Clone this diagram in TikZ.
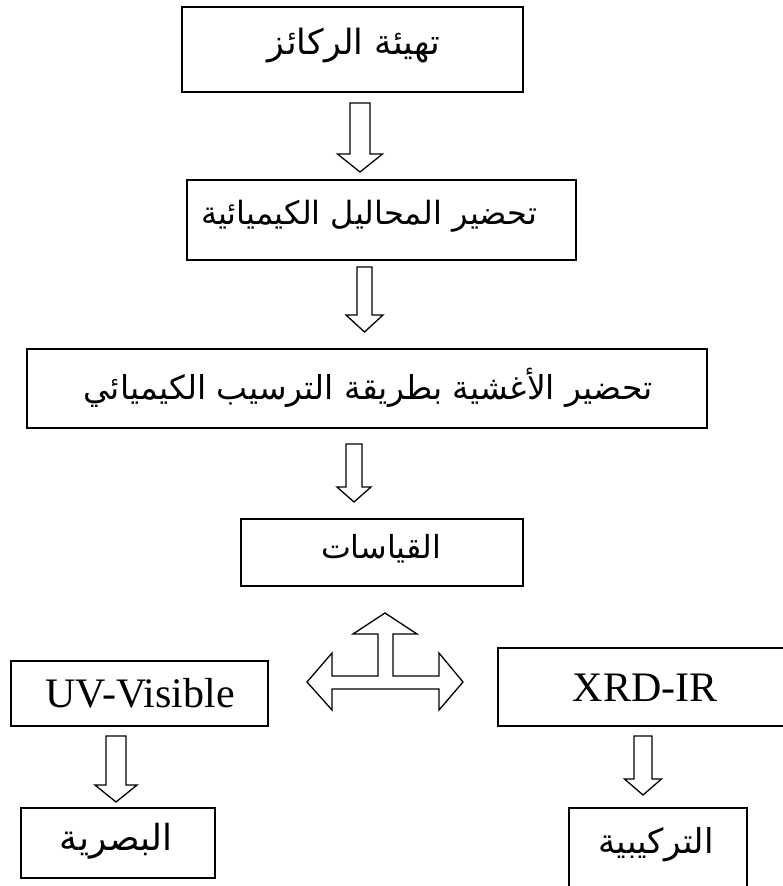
\documentclass[tikz,border=0pt]{standalone}
\usepackage{fontspec}
\usepackage{graphicx}
\TeXXeTstate=1
\setmainfont{Liberation Serif}
\newfontfamily\arabicfont[Script=Arabic]{DejaVu Sans}
\newcommand\blkdown[6]{%
  \draw[blk] ({#1-#5},#2) -- ({#1+#5},#2) -- ({#1+#5},#3) -- ({#1+#6},#3) -- (#1,#4) -- ({#1-#6},#3) -- ({#1-#5},#3) -- cycle;}
\newcommand\arf{\arabicfont\fontsize{28}{32}\selectfont}
\begin{document}
\begin{tikzpicture}[x=1pt,y=-1pt,
  box/.style={draw, line width=1.6pt, inner sep=0pt},
  ar/.style={inner sep=0pt},
  lat/.style={font=\fontsize{42}{46}\selectfont, inner sep=0pt},
  blk/.style={draw, line width=1.3pt, fill=white, line join=miter}]
\useasboundingbox (0,0) rectangle (783,886);
\clip (0,0) rectangle (783,886);
% boxes
\node[box, minimum width=341, minimum height=85] (b1) at (352.5,49.5) {};
\node[box, minimum width=389, minimum height=80] (b2) at (381.5,220) {};
\node[box, minimum width=680, minimum height=79] (b3) at (367,388.5) {};
\node[box, minimum width=282, minimum height=67] (b4) at (382,552.5) {};
\node[box, minimum width=257, minimum height=65] (uv) at (139.5,693.5) {};
\node[box, minimum width=292, minimum height=78] (xrd) at (644,687) {};
\node[box, minimum width=194, minimum height=70] (bas) at (118,843) {};
\node[box, minimum width=178, minimum height=102] (tark) at (658,859) {};
% texts
\node[ar] (t1) at (354,45.5) {\resizebox{172pt}{!}{\arf\beginR تهيئة الركائز\endR}};
\node[ar] (t2) at (369,216) {\resizebox{336pt}{!}{\arf\beginR تحضير المحاليل الكيميائية\endR}};
\node[ar] (t3) at (368,388) {\resizebox{569pt}{!}{\arf\beginR تحضير الأغشية بطريقة الترسيب الكيميائي\endR}};
\node[ar] (t4) at (381,549) {\resizebox{120pt}{!}{\arf\beginR القياسات\endR}};
\node[lat] (tuv) at (140,693) {UV-Visible};
\node[lat] (txrd) at (645,688) {XRD-IR};
\node[ar] (tbas) at (116,841) {\resizebox{112pt}{!}{\arf\beginR البصرية\endR}};
\node[ar] (ttark) at (656,845) {\resizebox{115pt}{!}{\arf\beginR التركيبية\endR}};
% block arrows
\blkdown{360}{103}{154}{172}{10}{22.5}
\blkdown{364.5}{267}{315}{332}{7.5}{18.5}
\blkdown{354}{444}{487}{502}{8}{17}
\blkdown{116}{736}{785}{802}{10}{21}
\blkdown{643}{736}{779}{795}{9}{18.5}
% three-way arrow
\draw[blk] (385,613) -- (417,634) -- (393,634) -- (393,676) -- (439,676) -- (439,653) -- (463,682) -- (439,710) -- (439,689) -- (332,689) -- (332,710) -- (307,682) -- (332,653) -- (332,676) -- (378,676) -- (378,634) -- (353,634) -- cycle;
\end{tikzpicture}
\end{document}
